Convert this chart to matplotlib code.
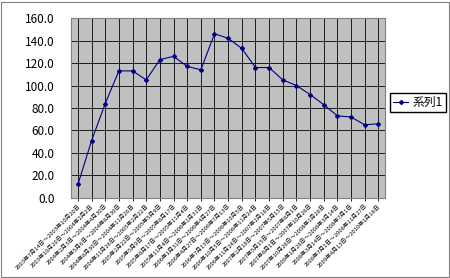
import matplotlib
matplotlib.use("Agg")
import matplotlib.pyplot as plt
from matplotlib.patches import Rectangle

plt.rcParams['font.family'] = ['Noto Sans CJK JP', 'DejaVu Sans']

# 期間ラベル
labels = [
    "2003年7月14日～2003年10月20日", "2003年10月20日～2004年2月2日",
    "2004年2月3日～2004年4月30日", "2004年5月6日～2004年8月30日",
    "2004年8月30日～2004年11月26日", "2004年11月26日～2005年2月22日",
    "2005年2月22日～2005年5月9日", "2005年5月9日～2005年8月17日",
    "2005年8月17日～2005年11月4日", "2005年11月4日～2006年1月31日",
    "2006年1月31日～2006年4月27日", "2006年4月27日～2006年7月13日",
    "2006年7月13日～2006年10月5日", "2006年10月5日～2006年11月24日",
    "2006年11月24日～2007年2月18日", "2007年2月18日～2007年5月15日",
    "2007年5月15日～2007年8月1日", "2007年8月1日～2007年10月26日",
    "2007年10月26日～2008年1月28日", "2008年1月28日～2008年3月14日",
    "2008年3月14日～2008年7月1日", "2008年7月1日～2008年11月27日",
    "2009年4月13日～2010年1月18日",
]
# 系列1
values = [12, 51, 84, 113, 113, 105, 123, 126, 117, 114, 146, 142, 133,
          116, 116, 105, 100, 92, 83, 73, 72, 65, 66]

fig = plt.figure(figsize=(4.5, 2.78), dpi=100)
fig.patches.append(Rectangle((0.003, 0.004), 0.994, 0.99, transform=fig.transFigure,
                             fill=False, edgecolor='#808080', linewidth=0.8))

ax = fig.add_axes([0.158, 0.288, 0.698, 0.647])
ax.set_facecolor('#C0C0C0')
x = list(range(len(values)))
ax.plot(x, values, color='#000080', linewidth=0.8, marker='D', markersize=2,
        label='系列1')
ax.set_xlim(-0.5, len(values) - 0.5)
ax.set_ylim(0, 160)
ax.set_yticks(range(0, 161, 20))
ax.set_yticklabels([f"{v:.1f}" for v in range(0, 161, 20)], fontsize=8.5)
ax.set_xticks(x)
ax.set_xticklabels(labels, rotation=45, ha='right', rotation_mode='anchor', fontsize=4.2)
ax.grid(True, color='black', linewidth=0.6)
ax.set_axisbelow(True)
ax.tick_params(axis='x', length=2, width=0.6, pad=2)
ax.tick_params(axis='y', length=0, pad=12)
for s in ax.spines.values():
    s.set_color('#808080')
    s.set_linewidth(0.8)

ax.legend(loc='center left', bbox_to_anchor=(1.015, 0.53), fontsize=8.5, frameon=True,
          fancybox=False, edgecolor='black', framealpha=1, handlelength=1.3,
          borderpad=0.25, handletextpad=0.4, borderaxespad=0)

fig.savefig('out.png', dpi=100)
